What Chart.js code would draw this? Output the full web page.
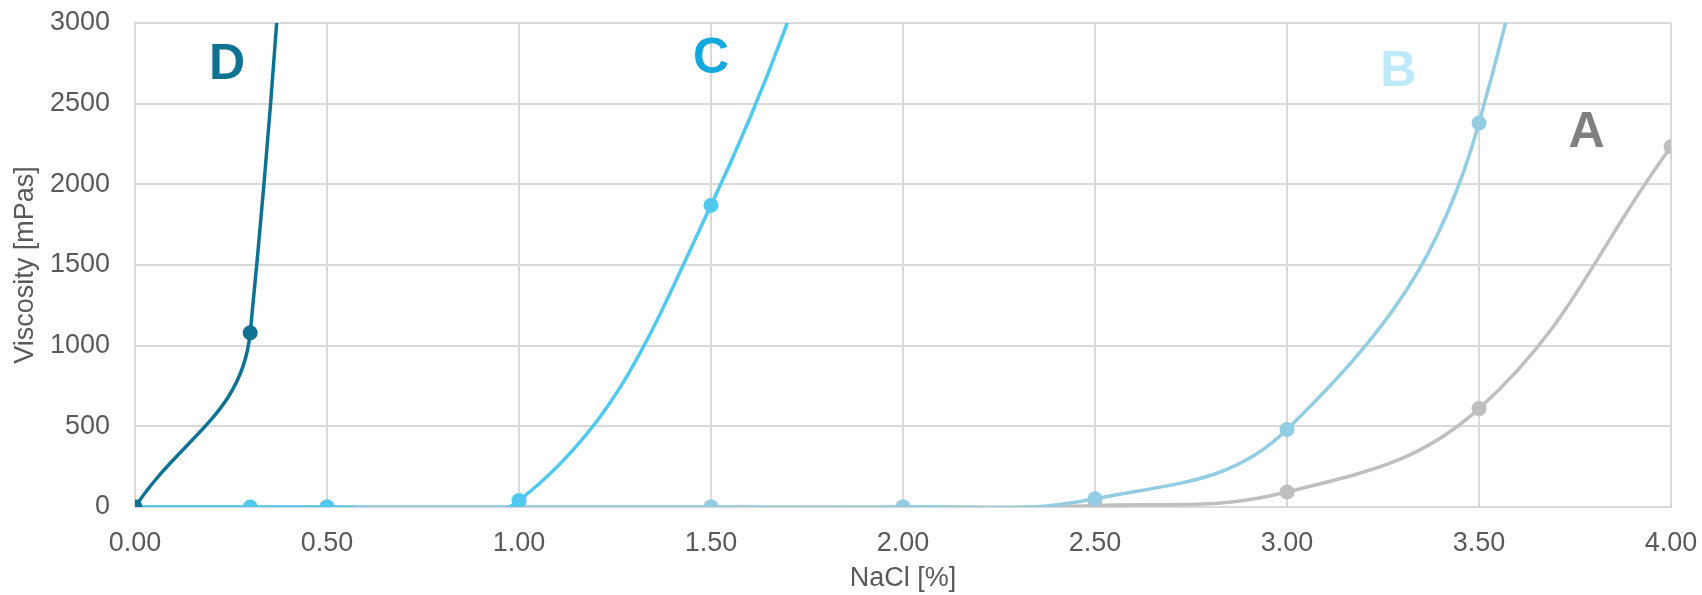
<!DOCTYPE html>
<html>
<head>
<meta charset="utf-8">
<script src="https://cdn.jsdelivr.net/npm/chart.js@4/dist/chart.umd.min.js"></script>
<style>
    html, body { margin: 0; padding: 0; background: #fff; }
    #wrap { width: 1702px; height: 595px; }
</style>
</head>
<body>
<div id="wrap"><canvas id="viscosity"></canvas></div>
<script>
// NaCl concentrations [%] per series
var naclD = [0, 0.3, 0.5];
var naclC = [0, 0.3, 0.5, 1.0, 1.5, 2.0];
var naclB = [0, 0.5, 1.0, 1.5, 2.0, 2.5, 3.0, 3.5, 4.0];
var naclA = [0, 0.5, 1.0, 1.5, 2.0, 2.5, 3.0, 3.5, 4.0];

// viscosity [mPas]
var viscD = [0, 1080, 12000];
var viscC = [0, 0, 0, 40, 1870, 5100];
var viscB = [0, 0, 0, 0, 0, 51, 480, 2380, 9000];
var viscA = [0, 0, 0, 0, 0, 10, 93, 610, 2233];

// series letters, placed in data units
var tagNames = ['D', 'C', 'B', 'A'];
var tagX = [0.24, 1.5, 3.29, 3.78];
var tagY = [2764, 2798, 2723, 2345];
var tagColors = ['#0E7392', '#14A9DC', '#BDE9F8', '#7F7F7F'];

var xTicks = [0, 0.5, 1, 1.5, 2, 2.5, 3, 3.5, 4];
var yTicks = [0, 500, 1000, 1500, 2000, 2500, 3000];

function pairs(xs, ys) {
    return xs.map(function (x, i) { return {x: x, y: ys[i]}; });
}

function series(label, xs, ys, color) {
    return {
        label: label,
        data: pairs(xs, ys),
        borderColor: color,
        backgroundColor: color,
        pointBackgroundColor: color,
        pointBorderWidth: 0,
        pointRadius: 7.5,
        borderWidth: 3.5,
        tension: 0.4,
        fill: false
    };
}

// draws the big letters next to the curves
var tagPlugin = {
    id: 'tags',
    afterDatasetsDraw: function (chart) {
        var ctx = chart.ctx, sx = chart.scales.x, sy = chart.scales.y;
        var size = 50;
        ctx.save();
        ctx.font = 'bold ' + size + 'px "Liberation Sans", Arial, sans-serif';
        ctx.textAlign = 'center';
        ctx.textBaseline = 'alphabetic';
        tagNames.forEach(function (t, i) {
            ctx.fillStyle = tagColors[i];
            ctx.fillText(t, sx.getPixelForValue(tagX[i]), sy.getPixelForValue(tagY[i]) + size * 0.358);
        });
        ctx.restore();
    }
};

var font = {family: '"Liberation Sans", Arial, sans-serif', size: 27};

new Chart(document.getElementById('viscosity'), {
    type: 'line',
    data: {
        datasets: [
            series('D', naclD, viscD, '#0E7392'),
            series('C', naclC, viscC, '#4FC9EF'),
            series('B', naclB, viscB, '#93CDE4'),
            series('A', naclA, viscA, '#BFBFBF')
        ]
    },
    options: {
        responsive: true,
        maintainAspectRatio: false,
        animation: false,
        layout: {autoPadding: false, padding: {top: 23, right: 31, left: 0, bottom: 0}},
        elements: {line: {capBezierPoints: false}},
        plugins: {
            legend: {display: false},
            tooltip: {enabled: false}
        },
        scales: {
            x: {
                type: 'linear',
                min: 0,
                max: 4,
                afterBuildTicks: function (s) { s.ticks = xTicks.map(function (v) { return {value: v}; }); },
                afterFit: function (s) {
                    s.height = 88;
                    s.paddingLeft = 0;
                    s.paddingRight = 0;
                },
                grid: {color: '#D9D9D9', lineWidth: 2, drawTicks: false},
                border: {color: '#D9D9D9', width: 2},
                ticks: {
                    color: '#595959',
                    font: font,
                    padding: 20,
                    maxRotation: 0,
                    callback: function (v) { return Number(v).toFixed(2); }
                },
                title: {display: true, text: 'NaCl [%]', color: '#595959', font: font, padding: {top: 0, bottom: 0}}
            },
            y: {
                min: 0,
                max: 3000,
                afterBuildTicks: function (s) { s.ticks = yTicks.map(function (v) { return {value: v}; }); },
                afterFit: function (s) {
                    s.width = 135;
                    s.paddingTop = 0;
                    s.paddingBottom = 0;
                },
                grid: {color: '#D9D9D9', lineWidth: 2, drawTicks: false},
                border: {color: '#D9D9D9', width: 2},
                ticks: {
                    color: '#595959',
                    font: font,
                    padding: 25,
                    callback: function (v) { return String(v); }
                },
                title: {display: true, text: 'Viscosity [mPas]', color: '#595959', font: font, padding: {top: 9, bottom: 0}}
            }
        }
    },
    plugins: [tagPlugin]
});
</script>
</body>
</html>
